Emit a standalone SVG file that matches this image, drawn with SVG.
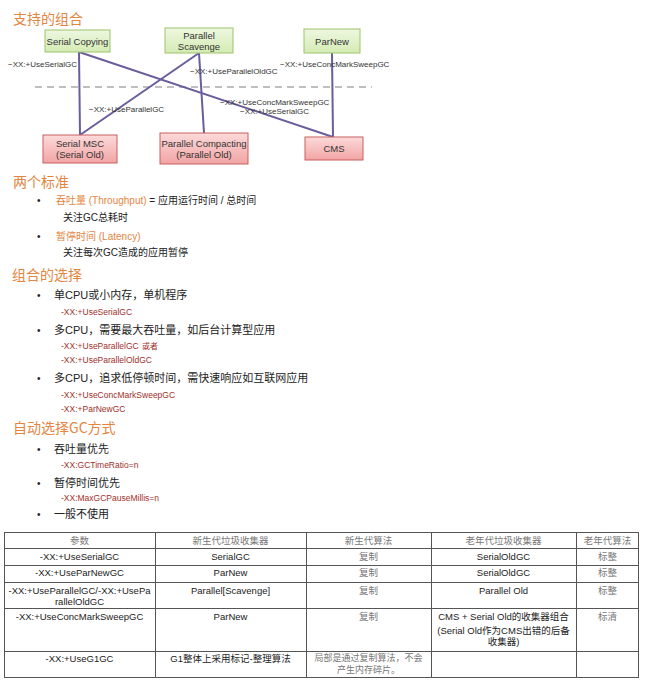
<svg xmlns="http://www.w3.org/2000/svg" width="650" height="685" viewBox="0 0 650 685">
<defs>
<linearGradient id="gG" x1="0" y1="0" x2="0" y2="1"><stop offset="0" stop-color="#EEF7E0"/><stop offset="1" stop-color="#D4EBB4"/></linearGradient>
<linearGradient id="gR" x1="0" y1="0" x2="0" y2="1"><stop offset="0" stop-color="#FCDADA"/><stop offset="1" stop-color="#F2A4A4"/></linearGradient>
<style>
.g{fill:url(#gG);stroke:#9CC46C;stroke-width:1}
.r{fill:url(#gR);stroke:#C8605E;stroke-width:1}
.bt{font-family:"Liberation Sans","Noto Sans CJK SC",sans-serif;font-size:9.5px;fill:#333;text-anchor:middle}
.lb{font-family:"Liberation Sans","Noto Sans CJK SC",sans-serif;font-size:8px;fill:#333}
.cn{stroke:#6B5C9C;stroke-width:2;fill:none}
.h{font-family:"Noto Sans CJK SC",sans-serif;font-size:14px;fill:#E3853F}
.t{font-family:"Liberation Sans","Noto Sans CJK SC",sans-serif;font-size:10px;fill:#222}
.o{fill:#E3853F}
.b{font-family:"Liberation Sans","Noto Sans CJK SC",sans-serif;font-size:11px;fill:#222}
.s{font-family:"Liberation Sans","Noto Sans CJK SC",sans-serif;font-size:8.5px;fill:#A0302A}
.dot{font-family:"Liberation Sans",sans-serif;font-size:10px;fill:#222}
.tl{stroke:#555;stroke-width:1;fill:none}
.tc{font-family:"Liberation Sans","Noto Sans CJK SC",sans-serif;font-size:9.5px;fill:#222;text-anchor:middle}
.tz{font-family:"Noto Sans CJK SC",serif;font-size:9.5px;fill:#777;text-anchor:middle}
</style>
</defs>
<rect width="650" height="685" fill="#FFFFFF"/>

<text class="h" x="13" y="24">支持的组合</text>

<line x1="35" y1="87" x2="372" y2="87" stroke="#AAAAAA" stroke-width="1.5" stroke-dasharray="7,5"/>

<g id="connectors">
<line class="cn" x1="79" y1="52" x2="80" y2="135"/>
<line class="cn" x1="79" y1="52" x2="333" y2="137"/>
<line class="cn" x1="199" y1="53" x2="80" y2="135"/>
<line class="cn" x1="199" y1="53" x2="204" y2="133"/>
<line class="cn" x1="332" y1="53" x2="333" y2="137"/>
<text class="lb" x="8" y="67">−XX:+UseSerialGC</text>
<text class="lb" x="190" y="74">−XX:+UseParallelOldGC</text>
<text class="lb" x="280" y="67">−XX:+UseConcMarkSweepGC</text>
<text class="lb" x="89" y="112">−XX:+UseParallelGC</text>
<text class="lb" x="220" y="105">−XX:+UseConcMarkSweepGC</text>
<text class="lb" x="240" y="114">−XX:+UseSerialGC</text>
</g>

<g id="serial-copying"><rect class="g" x="45" y="30" width="65" height="22"/><text class="bt" x="77.5" y="44.5">Serial Copying</text></g>
<g id="parallel-scavenge"><rect class="g" x="165" y="28" width="68" height="25"/><text class="bt" x="199" y="39">Parallel</text><text class="bt" x="199" y="49.5">Scavenge</text></g>
<g id="parnew"><rect class="g" x="304" y="29" width="56" height="24"/><text class="bt" x="332" y="44.5">ParNew</text></g>
<g id="serial-msc"><rect class="r" x="43" y="135" width="74" height="28"/><text class="bt" x="80" y="147">Serial MSC</text><text class="bt" x="80" y="158">(Serial Old)</text></g>
<g id="parallel-compacting"><rect class="r" x="160" y="133" width="88" height="31"/><text class="bt" x="204" y="147">Parallel Compacting</text><text class="bt" x="204" y="158">(Parallel Old)</text></g>
<g id="cms"><rect class="r" x="305" y="137" width="58" height="23"/><text class="bt" x="334" y="152">CMS</text></g>

<text class="h" x="13" y="187">两个标准</text>
<text class="dot" x="37" y="204" fill="#666">•</text>
<text class="t" x="56" y="204"><tspan class="o">吞吐量 (Throughput)</tspan> = 应用运行时间 / 总时间</text>
<text class="t" x="63" y="221">关注GC总耗时</text>
<text class="dot" x="37" y="240">•</text>
<text class="t" x="56" y="240"><tspan class="o">暂停时间 (Latency)</tspan></text>
<text class="t" x="63" y="256">关注每次GC造成的应用暂停</text>

<text class="h" x="12" y="280">组合的选择</text>
<text class="dot" x="37" y="299">•</text>
<text class="b" x="54" y="299">单CPU或小内存，单机程序</text>
<text class="s" x="61" y="315">-XX:+UseSerialGC</text>
<text class="dot" x="37" y="334">•</text>
<text class="b" x="54" y="334">多CPU，需要最大吞吐量，如后台计算型应用</text>
<text class="s" x="61" y="349">-XX:+UseParallelGC</text>
<text class="s" x="142" y="349" fill="#C00000" style="font-size:8px">或者</text>
<text class="s" x="61" y="363">-XX:+UseParallelOldGC</text>
<text class="dot" x="37" y="382">•</text>
<text class="b" x="54" y="382">多CPU，追求低停顿时间，需快速响应如互联网应用</text>
<text class="s" x="61" y="398">-XX:+UseConcMarkSweepGC</text>
<text class="s" x="61" y="412">-XX:+ParNewGC</text>

<text class="h" x="13" y="433">自动选择GC方式</text>
<text class="dot" x="37" y="453">•</text>
<text class="b" x="54" y="453">吞吐量优先</text>
<text class="s" x="61" y="468">-XX:GCTimeRatio=n</text>
<text class="dot" x="37" y="487">•</text>
<text class="b" x="54" y="487">暂停时间优先</text>
<text class="s" x="61" y="501">-XX:MaxGCPauseMillis=n</text>
<text class="dot" x="37" y="518">•</text>
<text class="b" x="54" y="518">一般不使用</text>

<g id="table">
<rect class="tl" x="4.5" y="532.5" width="634" height="145"/>
<line class="tl" x1="4" y1="548.5" x2="639" y2="548.5"/>
<line class="tl" x1="4" y1="565.5" x2="639" y2="565.5"/>
<line class="tl" x1="4" y1="582.5" x2="639" y2="582.5"/>
<line class="tl" x1="4" y1="608.5" x2="639" y2="608.5"/>
<line class="tl" x1="4" y1="651.5" x2="639" y2="651.5"/>
<line class="tl" x1="155.5" y1="532" x2="155.5" y2="678"/>
<line class="tl" x1="306.5" y1="532" x2="306.5" y2="678"/>
<line class="tl" x1="431.5" y1="532" x2="431.5" y2="678"/>
<line class="tl" x1="576.5" y1="532" x2="576.5" y2="678"/>

<text class="tz" x="79.5" y="544">参数</text>
<text class="tz" x="230.5" y="544">新生代垃圾收集器</text>
<text class="tz" x="368.5" y="544">新生代算法</text>
<text class="tz" x="503.5" y="544">老年代垃圾收集器</text>
<text class="tz" x="607.5" y="544">老年代算法</text>

<text class="tc" x="79.5" y="560">-XX:+UseSerialGC</text>
<text class="tc" x="230.5" y="560">SerialGC</text>
<text class="tz" x="368.5" y="560">复制</text>
<text class="tc" x="503.5" y="560">SerialOldGC</text>
<text class="tz" x="607.5" y="560">标整</text>

<text class="tc" x="79.5" y="576">-XX:+UseParNewGC</text>
<text class="tc" x="230.5" y="576">ParNew</text>
<text class="tz" x="368.5" y="576">复制</text>
<text class="tc" x="503.5" y="576">SerialOldGC</text>
<text class="tz" x="607.5" y="576">标整</text>

<text class="tc" x="79.5" y="594">-XX:+UseParallelGC/-XX:+UsePa</text>
<text class="tc" x="79.5" y="604.5">rallelOldGC</text>
<text class="tc" x="230.5" y="594">Parallel[Scavenge]</text>
<text class="tz" x="368.5" y="594">复制</text>
<text class="tc" x="503.5" y="594">Parallel Old</text>
<text class="tz" x="607.5" y="594">标整</text>

<text class="tc" x="79.5" y="620">-XX:+UseConcMarkSweepGC</text>
<text class="tc" x="230.5" y="620">ParNew</text>
<text class="tz" x="368.5" y="620">复制</text>
<text class="tc" x="503.5" y="620">CMS + Serial Old的收集器组合</text>
<text class="tc" x="503.5" y="634">(Serial Old作为CMS出错的后备</text>
<text class="tc" x="503.5" y="645">收集器)</text>
<text class="tz" x="607.5" y="620">标清</text>

<text class="tc" x="79.5" y="662">-XX:+UseG1GC</text>
<text class="tc" x="230.5" y="662">G1整体上采用标记-整理算法</text>
<text class="tz" x="368.5" y="661" style="font-size:9px">局部是通过复制算法，不会</text>
<text class="tz" x="368.5" y="673" style="font-size:9px">产生内存碎片。</text>
</g>
</svg>
